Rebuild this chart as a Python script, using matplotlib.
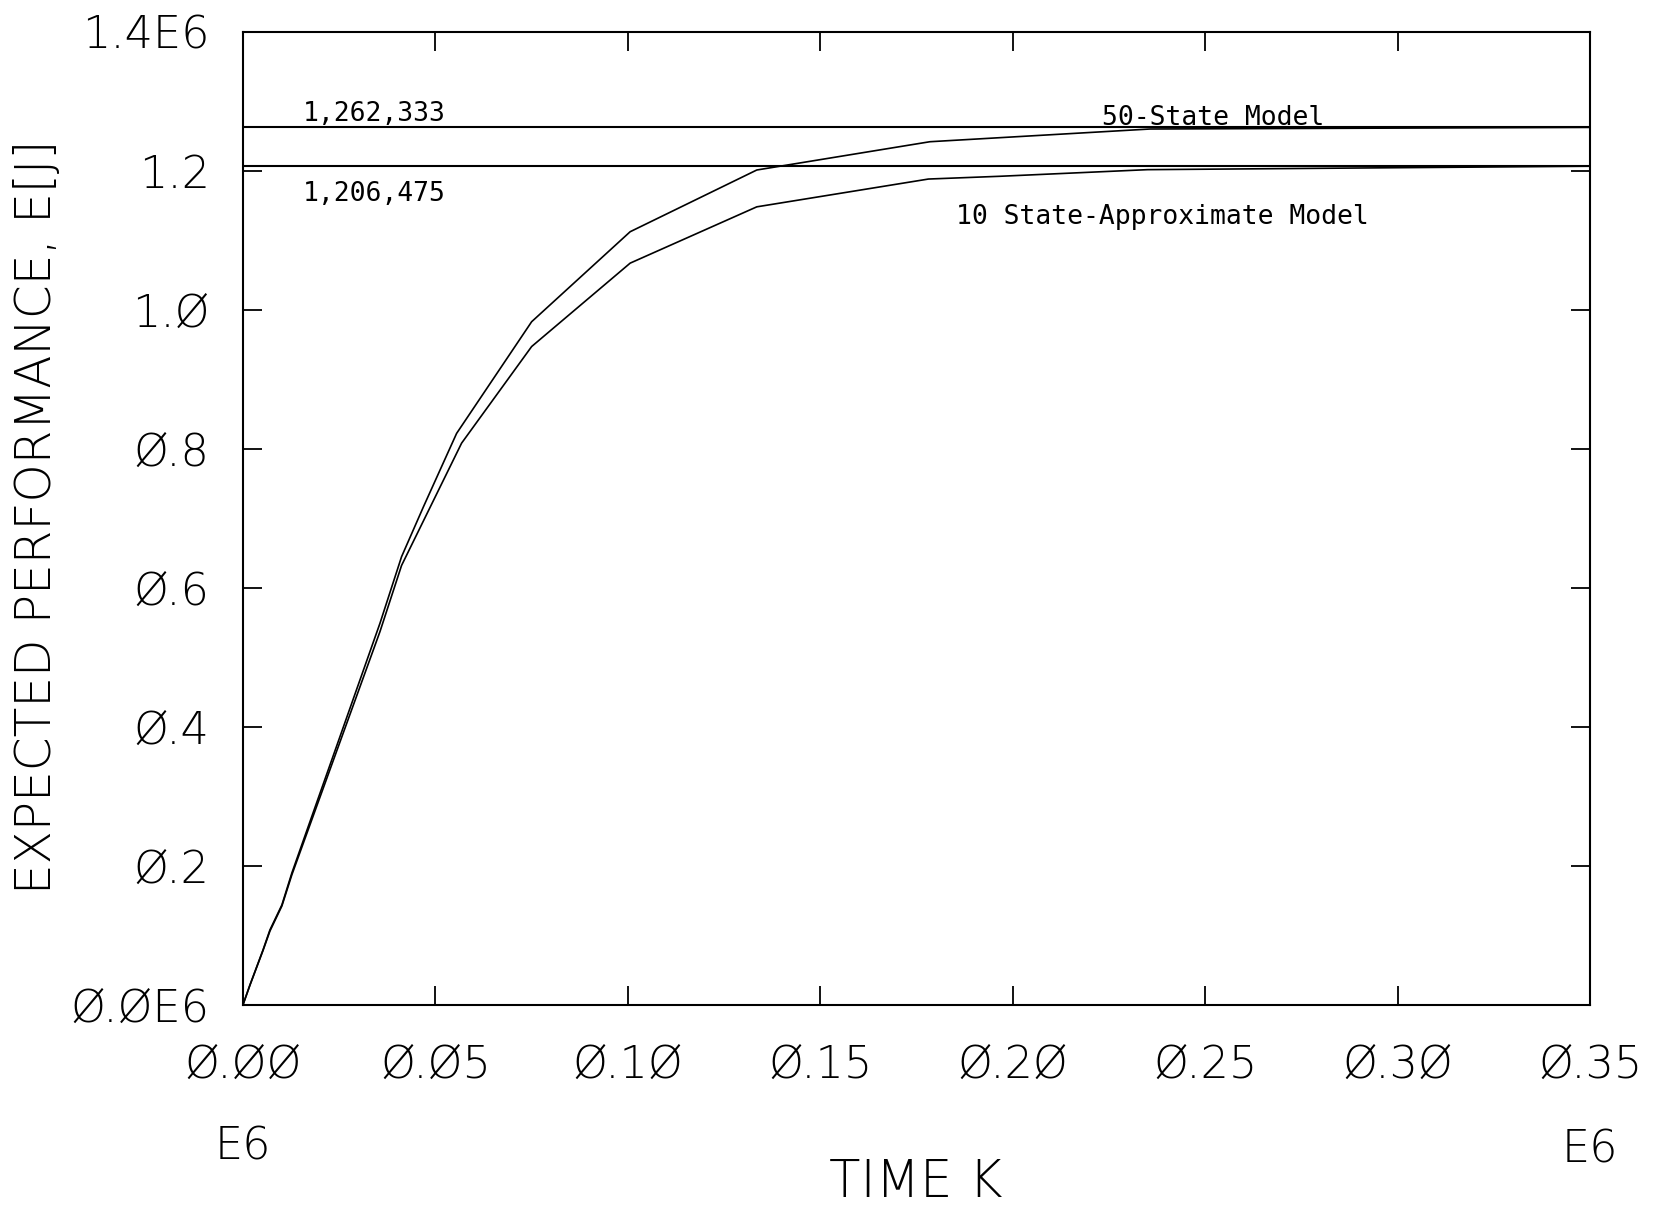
import matplotlib
matplotlib.use("Agg")
import matplotlib.pyplot as plt
import matplotlib.transforms as mtransforms

# ---- data (time in units of 1E6, performance in units of 1E6) ----
t_50 = [0, 0.0018, 0.0052, 0.0070, 0.0101, 0.0127, 0.0356, 0.0412, 0.0469,
        0.0555, 0.075, 0.1006, 0.1335, 0.1785, 0.2357, 0.35]
e_50 = [0, 0.0283, 0.0788, 0.1076, 0.1435, 0.1896, 0.549, 0.6446, 0.7166,
        0.822, 0.9827, 1.1122, 1.2010, 1.2417, 1.2600, 1.262333]

t_10 = [0, 0.0018, 0.0052, 0.0070, 0.0101, 0.0127, 0.0356, 0.0412, 0.0568,
        0.075, 0.1006, 0.1335, 0.1781, 0.1968, 0.2350, 0.35]
e_10 = [0, 0.028, 0.078, 0.106, 0.142, 0.187, 0.537, 0.632, 0.808,
        0.947, 1.067, 1.148, 1.188, 1.192, 1.2015, 1.206475]

steady_50 = 1.262333
steady_10 = 1.206475
steady_labels = ["1,262,333", "1,206,475"]

x_ticks = [0.00, 0.05, 0.10, 0.15, 0.20, 0.25, 0.30, 0.35]
x_ticklabels = ["Ø.ØØ", "Ø.Ø5", "Ø.1Ø", "Ø.15", "Ø.2Ø", "Ø.25", "Ø.3Ø", "Ø.35"]
y_ticks = [0.0, 0.2, 0.4, 0.6, 0.8, 1.0, 1.2, 1.4]
y_ticklabels = ["Ø.ØE6", "Ø.2", "Ø.4", "Ø.6", "Ø.8", "1.Ø", "1.2", "1.4E6"]

W, H = 1668, 1207
fig = plt.figure(figsize=(W / 100, H / 100), dpi=100)
fig.patch.set_facecolor("white")

ax_l, ax_r, ax_t, ax_b = 243, 1590, 31.7, 1004.7
ax = fig.add_axes([ax_l / W, 1 - ax_b / H, (ax_r - ax_l) / W, (ax_b - ax_t) / H])

ax.plot(t_50, e_50, color="black", lw=1.2)
ax.plot(t_10, e_10, color="black", lw=1.2)
ax.axhline(steady_50, color="black", lw=1.5)
ax.axhline(steady_10, color="black", lw=1.5)

ax.set_xlim(0, 0.35)
ax.set_ylim(0, 1.4)

for s in ax.spines.values():
    s.set_linewidth(1.5)
    s.set_color("black")

tickfont = dict(family="DejaVu Sans", size=32, weight="light")
ax.set_xticks(x_ticks)
ax.set_xticklabels(x_ticklabels, fontdict=tickfont)
ax.set_yticks(y_ticks)
ax.set_yticklabels(y_ticklabels, fontdict=tickfont)
ax.tick_params(axis="both", which="major", direction="in", length=14, width=1.3,
               top=True, right=True, colors="black")
ax.tick_params(axis="x", pad=28.5)
ax.tick_params(axis="y", pad=24)

mono = dict(family="DejaVu Sans Mono", size=19, color="black")
ax.text(0.0155, 1.2822, steady_labels[0], ha="left", va="center", **mono)
ax.text(0.0155, 1.1658, steady_labels[1], ha="left", va="center", **mono)
ax.text(0.2231, 1.2758, "50-State Model", ha="left", va="center", **mono)
ax.text(0.1852, 1.1334, "10 State-Approximate Model", ha="left", va="center", **mono)

# E6 multipliers under the x axis ends
trans = mtransforms.blended_transform_factory(ax.transData, fig.transFigure)
ax.text(0.0, 1 - 1147 / H, "E6", transform=trans, ha="center", va="center",
        family="DejaVu Sans", size=32, weight="light")
ax.text(0.35, 1 - 1150 / H, "E6", transform=trans, ha="center", va="center",
        family="DejaVu Sans", size=32, weight="light")

fig.text(916 / W, 1 - 1183 / H, "TIME K", ha="center", va="center",
         family="DejaVu Sans", size=37, weight="light")
fig.text(37 / W, 1 - 517 / H, "EXPECTED PERFORMANCE, E[J]", ha="center", va="center",
         rotation=90, family="DejaVu Sans", size=35, weight="light")

fig.savefig("out.png", dpi=100, facecolor="white")
